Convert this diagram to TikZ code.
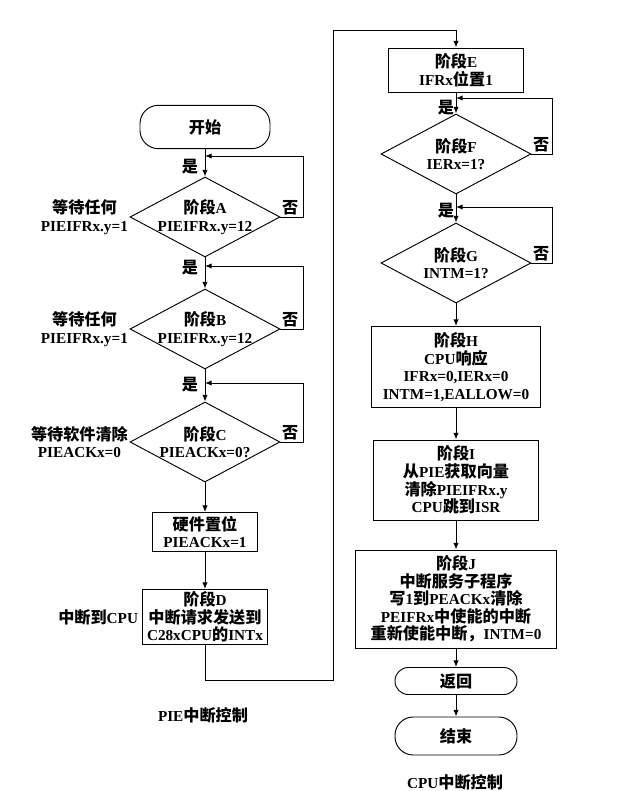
\documentclass[tikz,border=0pt]{standalone}
\usepackage{fontspec}
\setmainfont{Liberation Serif}
\newfontfamily\cjk[Scale=1.06]{Noto Sans CJK SC}
\newcommand\zh[1]{{\cjk #1}}
\usetikzlibrary{arrows.meta,shapes.geometric}

\begin{document}
\begin{tikzpicture}[x=0.03cm, y=-0.03cm, line width=0.8pt,
    font=\fontsize{13}{15}\selectfont\bfseries,
    box/.style={draw, align=center, inner sep=1pt},
    term/.style={draw, rounded corners=0.55cm, minimum width=3.7cm, minimum height=1.25cm},
    dec/.style={draw, diamond, aspect=1.875, inner sep=-3.5pt, minimum width=4.5cm, minimum height=2.4cm, align=center},
    lbl/.style={inner sep=1pt, align=center},
    arr/.style={-{Latex[length=2mm,width=1.6mm]}}]
\useasboundingbox (0,0) rectangle (635,791);
% PIE side (left column, x = 205)
\node[term, minimum width=3.9cm, minimum height=1.3cm] (start) at (205,127) {\zh{开始}};
\node[dec] (A) at (205,217) {\zh{阶段}A\\PIEIFRx.y=12};
\node[dec] (B) at (205,329) {\zh{阶段}B\\PIEIFRx.y=12};
\node[dec] (C) at (205,442) {\zh{阶段}C\\PIEACKx=0?};
\node[box, minimum width=3.15cm, minimum height=1.17cm] (hw) at (205,532) {\zh{硬件置位}\\PIEACKx=1};
\node[box, minimum width=3.75cm, minimum height=1.65cm] (D) at (205,617) {\zh{阶段}D\\\zh{中断请求发送到}\\C28xCPU\zh{的}INTx};
\node[lbl, anchor=east] (wA) at (A.west) {\zh{等待任何}\\PIEIFRx.y=1};
\node[lbl, anchor=east] (wB) at (B.west) {\zh{等待任何}\\PIEIFRx.y=1};
\node[lbl, anchor=east] (wC) at (C.west) {\zh{等待软件清除}\\PIEACKx=0};
\node[lbl, anchor=east, inner sep=3pt] (wD) at (D.west) {\zh{中断到}CPU};
\node[lbl] (yA) at (190,167) {\zh{是}};
\node[lbl] (yB) at (190,268) {\zh{是}};
\node[lbl] (yC) at (190,385) {\zh{是}};
\node[lbl, anchor=south west] (nA) at (A.east) {\zh{否}};
\node[lbl, anchor=south west] (nB) at (B.east) {\zh{否}};
\node[lbl, anchor=south west] (nC) at (C.east) {\zh{否}};
\node[lbl] (pieT) at (203,715) {PIE\zh{中断控制}};
\coordinate (jA) at (205,156);
\coordinate (jB) at (205,266);
\coordinate (jC) at (205,383);
\draw[arr] (start) -- (A);
\draw[arr] (A) -- (B);
\draw[arr] (B) -- (C);
\draw[arr] (C) -- (hw);
\draw[arr] (hw) -- (D);
\draw[arr] (A.east) -- ++(23,0) |- (jA);
\draw[arr] (B.east) -- ++(23,0) |- (jB);
\draw[arr] (C.east) -- ++(23,0) |- (jC);
% CPU side (right column, x = 456)
\node[box, minimum width=4.05cm, minimum height=1.32cm] (E) at (456,70) {\zh{阶段}E\\IFRx\zh{位置}1};
\node[dec] (F) at (456,154) {\zh{阶段}F\\IERx=1?};
\node[dec] (G) at (456,263) {\zh{阶段}G\\INTM=1?};
\node[box, minimum width=5.07cm, minimum height=2.43cm] (H) at (456,367) {\zh{阶段}H\\CPU\zh{响应}\\IFRx=0,IERx=0\\INTM=1,EALLOW=0};
\node[box, minimum width=4.95cm, minimum height=2.4cm] (I) at (456,480) {\zh{阶段}I\\\zh{从}PIE\zh{获取向量}\\\zh{清除}PIEIFRx.y\\CPU\zh{跳到}ISR};
\node[box, minimum width=6.03cm, minimum height=2.94cm] (J) at (456,599) {\zh{阶段}J\\\zh{中断服务子程序}\\\zh{写}1\zh{到}PEACKx\zh{清除}\\PEIFRx\zh{中使能的中断}\\\zh{重新使能中断，}INTM=0};
\node[term, rounded corners=0.4cm, minimum width=3.66cm, minimum height=0.81cm] (ret) at (456,681) {\zh{返回}};
\node[term, minimum width=3.66cm, minimum height=1.14cm] (stop) at (456,736) {\zh{结束}};
\node[lbl] (yF) at (446,108) {\zh{是}};
\node[lbl] (yG) at (446,211) {\zh{是}};
\node[lbl, anchor=south west] (nF) at (F.east) {\zh{否}};
\node[lbl, anchor=south west] (nG) at (G.east) {\zh{否}};
\node[lbl] (cpuT) at (455,782) {CPU\zh{中断控制}};
\coordinate (jF) at (456,98);
\coordinate (jG) at (456,207);
\draw[arr] (E) -- (F);
\draw[arr] (F) -- (G);
\draw[arr] (G) -- (H);
\draw[arr] (H) -- (I);
\draw[arr] (I) -- (J);
\draw[arr] (J) -- (ret);
\draw[arr] (ret) -- (stop);
\draw[arr] (F.east) -- ++(21,0) |- (jF);
\draw[arr] (G.east) -- ++(21,0) |- (jG);
% PIE -> CPU
\coordinate (dl) at (205,680);
\coordinate (tp) at (333,30);
\draw[arr] (D) -- (dl) -| (tp) -| (E);
\end{tikzpicture}
\end{document}
